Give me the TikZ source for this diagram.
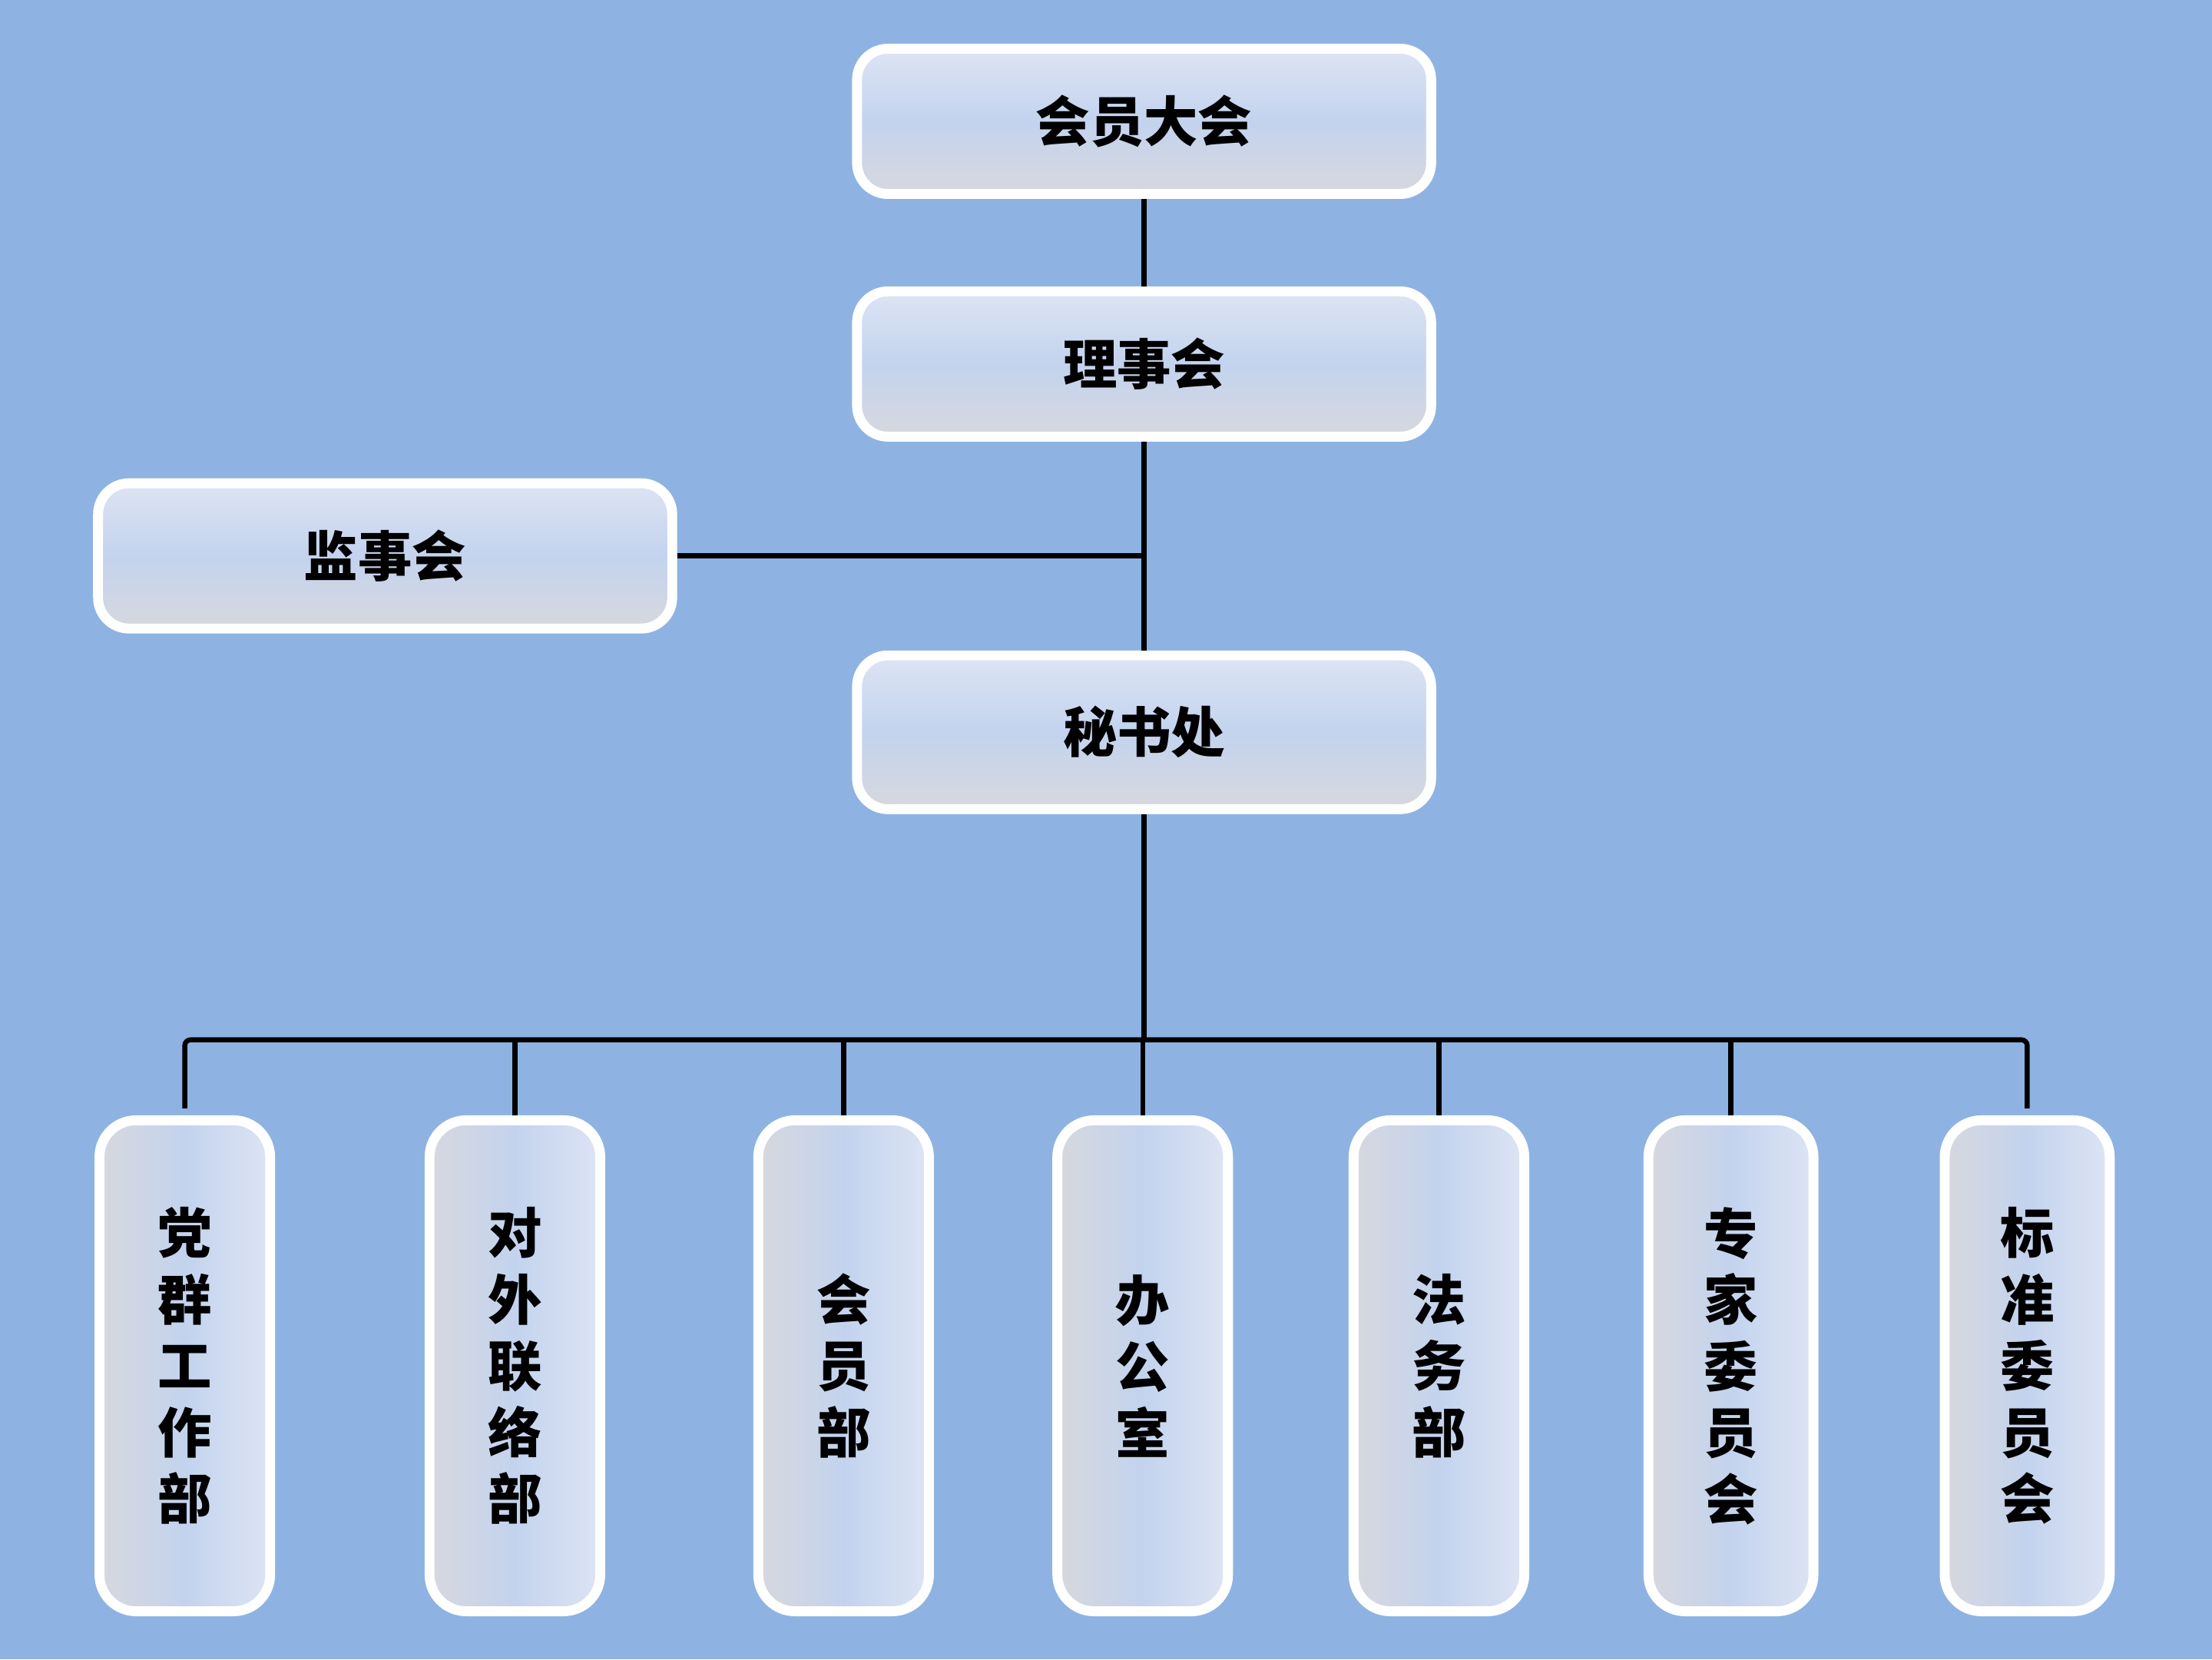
\documentclass[tikz,border=0pt]{standalone}
\usepackage{fontspec}
\newfontfamily\cjk{Noto Sans CJK SC}
\definecolor{bgblue}{HTML}{8EB3E2}
\definecolor{boxlight}{HTML}{DDE4F4}
\definecolor{boxblue}{HTML}{C3D3EE}
\definecolor{boxgrey}{HTML}{D7D8DE}
\begin{document}
\begin{tikzpicture}[x=0.1mm,y=-0.1mm,
    hbox/.style={rectangle,rounded corners=2.2mm,draw=white,line width=0.7mm,
      top color=boxlight,bottom color=boxgrey,middle color=boxblue,
      minimum width=40.7mm,minimum height=10.3mm,
      font=\cjk\bfseries\fontsize{10.9}{13.4}\selectfont},
    vbox/.style={rectangle,rounded corners=2.6mm,draw=white,line width=0.7mm,
      left color=boxgrey,right color=boxlight,middle color=boxblue,
      minimum width=12.1mm,minimum height=34.8mm,align=center,
      font=\cjk\bfseries\fontsize{10.9}{13.4}\selectfont},
    link/.style={line width=1pt,black}]
    \fill[bgblue] (0,0) rectangle (1568,1176);
    \node[hbox] (general) at (811,86) {会员大会};
    \node[hbox] (board) at (811,258) {理事会};
    \node[hbox] (supervisor) at (273,394) {监事会};
    \node[hbox,minimum height=10.9mm] (office) at (811,519) {秘书处};
    \coordinate (bus) at (809,737);
    \node[vbox] (d1) at (131,968) {党\\群\\工\\作\\部};
    \node[vbox] (d2) at (365,968) {对\\外\\联\\络\\部};
    \node[vbox] (d3) at (598,968) {会\\员\\部};
    \node[vbox] (d4) at (810,968) {办\\公\\室};
    \node[vbox] (d5) at (1020,968) {法\\务\\部};
    \node[vbox,minimum width=11.7mm] (d6) at (1227,968) {专\\家\\委\\员\\会};
    \node[vbox,minimum width=11.7mm] (d7) at (1437,968) {标\\准\\委\\员\\会};
    % connectors
    \draw[link] (general.south) -- (board.north);
    \draw[link] (board.south) -- (office.north);
    \draw[link] (supervisor.east) -- (supervisor.east -| board.south);
    \draw[link] (office.south) -- (office.south |- bus);
    \draw[link,rounded corners=0.4mm,shorten <=0.5mm,shorten >=0.5mm]
      (d1.north) -- (d1.north |- bus) -- (d7.north |- bus) -- (d7.north);
    \foreach \d in {d2,d3,d4,d5,d6}
      \draw[link] (\d.north) -- (\d.north |- bus);
  \end{tikzpicture}
\end{document}
